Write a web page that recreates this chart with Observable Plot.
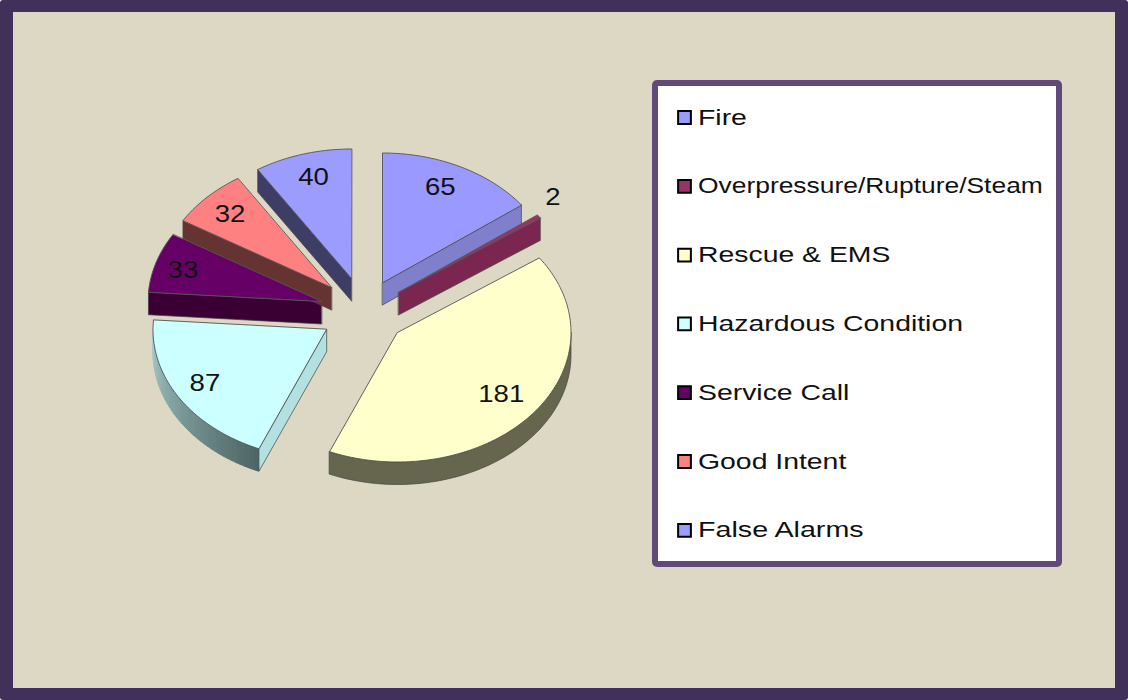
<!DOCTYPE html>
<html>
<head>
<meta charset="utf-8">
<script src="https://cdn.jsdelivr.net/npm/d3@7"></script>
<script src="https://cdn.jsdelivr.net/npm/@observablehq/plot@0.6"></script>
<style>
html,body{margin:0;padding:0;background:#fff;overflow:hidden}
svg{display:block;max-width:none}
</style>
</head>
<body>
<div id="chart"></div>
<script>
// ---- data ----
const categories = ["Fire","Overpressure/Rupture/Steam","Rescue & EMS","Hazardous Condition","Service Call","Good Intent","False Alarms"];
const counts = [65,2,181,87,33,32,40];
// ---- styling ----
const topColors  = ["#9999ff","#993366","#ffffcc","#ccffff","#660066","#ff8080","#9c9cff"];
const sideColors = ["#7f7fcc","#7a2650","#66664f","#b3e0e0","#3a0033","#663333","#3d3d66"];
const apexX = [382,398,397,326,321,331,351];
const apexY = [282,292,332,329,301,287,278];
const cutSide = ["end","end",null,"start","start","start","start"];
const rimFrom = [null,null,90,203.2,null,null,null];
const rimTo   = [null,null,203.2,270,null,null,null];
const labelFx = [.744,1.10,.768,.822,.838,.815,.775];
const labelFy = [.82,1.25,.765,.80,.80,.81,.81];
const legendStretch = [1.29,1.2,1.29,1.29,1.29,1.29,1.29];
const RX = 173.5, RY = 129.5, DEPTH = 22.5;
const ink = "#111";
const FONT = "'Liberation Sans', Arial, sans-serif";

const total = d3.sum(counts);
const ends = d3.cumsum(counts).map(v => v / total * 360);
const rad = a => a * Math.PI / 180;
const rim = (i, a, drop = 0) => ({
  x: apexX[i] + RX * Math.sin(rad(a)),
  y: apexY[i] - RY * Math.cos(rad(a)) + drop
});
const arc = (i, a0, a1, drop = 0) => {
  const n = Math.max(2, Math.ceil(Math.abs(a1 - a0) / 1.5));
  return d3.range(n + 1).map(k => rim(i, a0 + (a1 - a0) * k / n, drop));
};

const tops = [], sides = [], shaded = [];
const hazardShade = d3.interpolateRgb("#4f6666", "#a8cccc");
counts.forEach((c, i) => {
  const a1 = ends[i], a0 = a1 - c / total * 360;
  const apex = {x: apexX[i], y: apexY[i]};
  const push = (arr, id, pts, fill, stroke) => pts.forEach(p => arr.push({...p, id, fill, stroke}));
  push(tops, "t" + i, [apex, ...arc(i, a0, a1)], topColors[i], "#555");
  if (cutSide[i]) {
    const a = cutSide[i] === "end" ? a1 : a0;
    const r = rim(i, a), r2 = rim(i, a, DEPTH);
    push(sides, "c" + i, [apex, r, r2, {x: apex.x, y: apex.y + DEPTH}], sideColors[i], "#444");
  }
  if (rimFrom[i] != null) {
    if (i === 3) {
      const steps = 40;
      d3.range(steps).forEach(k => {
        const f = k / steps, g = (k + 1) / steps;
        const u = rimFrom[i] + (rimTo[i] - rimFrom[i]) * f, v = rimFrom[i] + (rimTo[i] - rimFrom[i]) * g;
        const col = hazardShade(f);
        push(shaded, "g" + k, [...arc(i, u, v), ...arc(i, v, u, DEPTH)], col, col);
      });
    } else {
      push(sides, "r" + i, [...arc(i, rimFrom[i], rimTo[i]), ...arc(i, rimTo[i], rimFrom[i], DEPTH)], sideColors[i], "#444");
    }
  }
});

const labels = counts.map((c, i) => {
  const a1 = ends[i], mid = a1 - c / total * 180;
  return {
    text: String(c),
    x: apexX[i] + RX * labelFx[i] * Math.sin(rad(mid)),
    y: apexY[i] - RY * labelFy[i] * Math.cos(rad(mid))
  };
});

const legendRows = categories.map((name, i) => ({name, fill: topColors[i], y: 117 + i * 68.8}));
const face = (arr, sw) => Plot.line(arr, {x: "x", y: "y", z: "id", fill: "fill", stroke: "stroke", strokeWidth: sw, curve: "linear-closed"});

// widen the glyphs: the reference text is horizontally stretched
const ctx2d = document.createElement("canvas").getContext("2d");
const widen = (size, factor) => (I, s, v, d, c, next) => {
  const g = next(I, s, v, d, c);
  ctx2d.font = `${size}px 'Liberation Sans'`;
  d3.select(g).selectAll("text").each(function () {
    const w = ctx2d.measureText(this.textContent).width * factor(this.textContent);
    this.setAttribute("textLength", w.toFixed(1));
    this.setAttribute("lengthAdjust", "spacingAndGlyphs");
  });
  return g;
};

const chart = Plot.plot({
  width: 1128, height: 700,
  marginLeft: 0, marginRight: 0, marginTop: 0, marginBottom: 0,
  x: {domain: [0, 1128], range: [0, 1128], axis: null},
  y: {domain: [0, 700], range: [0, 700], axis: null},
  color: {type: "identity"},
  style: {fontFamily: FONT, background: "transparent"},
  marks: [
    Plot.rect([0], {x1: 0, x2: 1128, y1: 0, y2: 700, fill: "#40305a", rx: 3}),
    Plot.rect([0], {x1: 13, x2: 1115, y1: 12, y2: 688, fill: "#ddd8c4"}),
    face(shaded, 1),
    face(sides, 0.7),
    face(tops, 0.9),
    Plot.text(labels, {x: "x", y: "y", text: "text", fontSize: 23, fill: ink, render: widen(23, () => 1.2)}),
    Plot.rect([0], {x1: 655, x2: 1059, y1: 83, y2: 564, fill: "#fff", stroke: "#604a7b", strokeWidth: 6, rx: 2}),
    Plot.dot(legendRows, {x: () => 684, y: "y", symbol: "square", r: 7.2, fill: "fill", stroke: "#000", strokeWidth: 2}),
    Plot.text(legendRows, {x: () => 697.5, y: "y", text: "name", textAnchor: "start", fontSize: 22, fill: ink,
      render: widen(22, t => legendStretch[categories.indexOf(t)])})
  ]
});
document.getElementById("chart").append(chart);
</script>
</body>
</html>
